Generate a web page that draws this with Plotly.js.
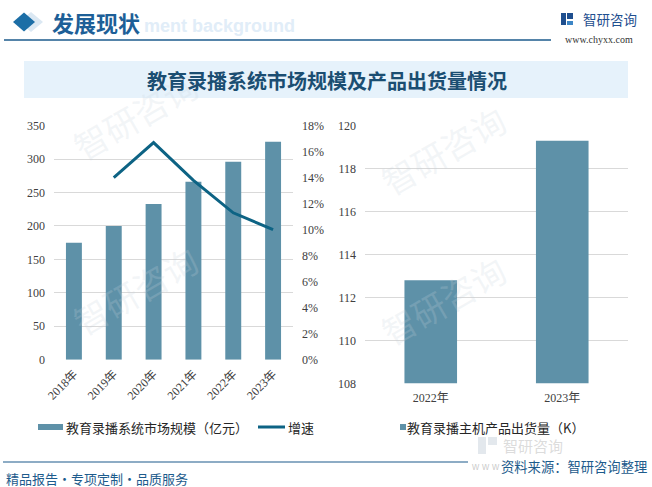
<!DOCTYPE html>
<html>
<head>
<meta charset="utf-8">
<script src="https://cdn.plot.ly/plotly-3.0.1.min.js"></script>
<style>
html,body{margin:0;padding:0;background:#fff;}
#chart{width:652px;height:487px;}
</style>
</head>
<body>
<div id="chart"></div>
<script>
// ---- data ----
const years = ['2018年', '2019年', '2020年', '2021年', '2022年', '2023年'];
const marketSize = [175, 200, 233, 266, 296, 326];          // 亿元
const growthRate = [null, 0.140, 0.167, 0.138, 0.113, 0.100];
const shipYears = ['2022年', '2023年'];
const shipments = [112.8, 119.3];                            // K
const seriesNames = ['教育录播系统市场规模（亿元）', '增速', '教育录播主机产品出货量（K）'];
const chartTitle = '教育录播系统市场规模及产品出货量情况';
const headerText = '发展现状';
const sourceText = '资料来源：智研咨询整理';
const footerText = '精品报告・专项定制・品质服务';

// ---- helpers (pixel -> paper) ----
const W = 652, H = 487;
const px = x => x / W;
const py = y => 1 - y / H;

const barColor = '#5e91a8';
const lineColor = '#0d6384';
const darkBlue = '#1d5b8c';
const tickFont = {family: 'SimSun, "Liberation Serif", "Noto Sans CJK SC", serif', size: 12, color: '#404040'};
const cjk = '"Noto Sans CJK SC", "Microsoft YaHei", sans-serif';

const traces = [
  {type: 'bar', x: years, y: marketSize, name: seriesNames[0], xaxis: 'x', yaxis: 'y',
   marker: {color: barColor}, hoverinfo: 'skip'},
  {type: 'scatter', mode: 'lines', x: years, y: growthRate, name: seriesNames[1], xaxis: 'x', yaxis: 'y2',
   line: {color: lineColor, width: 3}, connectgaps: false, hoverinfo: 'skip'},
  {type: 'bar', x: shipYears, y: shipments, name: seriesNames[2], xaxis: 'x2', yaxis: 'y3',
   marker: {color: barColor}, hoverinfo: 'skip'}
];

function diamond(cx, cy, rx, ry) {
  return `M${px(cx)},${py(cy - ry)} L${px(cx + rx)},${py(cy)} L${px(cx)},${py(cy + ry)} L${px(cx - rx)},${py(cy)} Z`;
}

const shapes = [
  // title band
  {type: 'rect', xref: 'paper', yref: 'paper', x0: px(24), x1: px(628), y0: py(98), y1: py(61),
   fillcolor: '#e6f2fb', line: {width: 0}, layer: 'below'},
  // header diamonds
  {type: 'path', xref: 'paper', yref: 'paper', path: diamond(31, 22, 12, 10), fillcolor: '#dbe8f3', line: {width: 0}},
  {type: 'path', xref: 'paper', yref: 'paper', path: diamond(24, 22, 11, 9.5), fillcolor: '#1c6ea6', line: {width: 0}},
  // header line
  {type: 'line', xref: 'paper', yref: 'paper', x0: px(4), x1: px(551), y0: py(40), y1: py(40),
   line: {color: darkBlue, width: 1.5}},
  // logo icon
  {type: 'rect', xref: 'paper', yref: 'paper', x0: px(561), x1: px(566), y0: py(25), y1: py(13),
   fillcolor: '#1f4f8f', line: {width: 0}},
  {type: 'rect', xref: 'paper', yref: 'paper', x0: px(567), x1: px(573), y0: py(19), y1: py(13),
   fillcolor: '#1f4f8f', line: {width: 0}},
  {type: 'rect', xref: 'paper', yref: 'paper', x0: px(567), x1: px(573), y0: py(25), y1: py(21),
   fillcolor: '#3d86c6', line: {width: 0}},
  // grey logo icon (bottom right watermark)
  {type: 'rect', xref: 'paper', yref: 'paper', x0: px(478), x1: px(486), y0: py(454), y1: py(437),
   fillcolor: 'rgba(200,210,220,0.5)', line: {width: 0}},
  {type: 'rect', xref: 'paper', yref: 'paper', x0: px(488), x1: px(497), y0: py(445), y1: py(437),
   fillcolor: 'rgba(200,210,220,0.5)', line: {width: 0}},
  // footer line
  {type: 'line', xref: 'paper', yref: 'paper', x0: px(3), x1: px(468), y0: py(462), y1: py(462),
   line: {color: darkBlue, width: 1.2}},
  // legend swatches
  {type: 'rect', xref: 'paper', yref: 'paper', x0: px(38), x1: px(63), y0: py(430), y1: py(424),
   fillcolor: barColor, line: {width: 0}},
  {type: 'line', xref: 'paper', yref: 'paper', x0: px(258), x1: px(285), y0: py(427), y1: py(427),
   line: {color: lineColor, width: 3}},
  {type: 'rect', xref: 'paper', yref: 'paper', x0: px(400), x1: px(406), y0: py(430), y1: py(424),
   fillcolor: barColor, line: {width: 0}}
];

const ann = (text, x, y, opts) => Object.assign({text, x: px(x), y: py(y), xref: 'paper', yref: 'paper',
  showarrow: false, xanchor: 'left', yanchor: 'middle', borderpad: 0}, opts || {});

const wmFont = {family: cjk, size: 34, color: 'rgba(200,210,220,0.22)'};
const annotations = [
  // faint watermarks
  ann('智研咨询', 62, 115, {font: wmFont, textangle: -30}),
  ann('智研咨询', 62, 290, {font: wmFont, textangle: -30}),
  ann('智研咨询', 370, 150, {font: wmFont, textangle: -30}),
  ann('智研咨询', 370, 300, {font: wmFont, textangle: -30}),
  // header
  ann('ment background', 143, 26, {font: {family: 'Arial, "Liberation Sans", sans-serif', size: 18, color: '#e1edf8', weight: 'bold'}}),
  ann('<b>' + headerText + '</b>', 51, 22, {font: {family: cjk, size: 22, color: '#1d5f97'}}),
  ann('智研咨询', 582, 19, {font: {family: cjk, size: 13.5, color: '#1f4f8f'}}),
  ann('www.chyxx.com', 599, 39, {xanchor: 'center', font: {family: '"Liberation Serif", serif', size: 10, color: '#333333'}}),
  // title
  ann('<b>' + chartTitle + '</b>', 327, 81, {xanchor: 'center', font: {family: cjk, size: 20, color: '#1b4e72'}}),
  // legends
  ann(seriesNames[0], 65, 427, {font: {family: cjk, size: 13, color: '#262626'}}),
  ann(seriesNames[1], 287, 427, {font: {family: cjk, size: 13, color: '#262626'}}),
  ann(seriesNames[2], 406, 427, {font: {family: cjk, size: 13, color: '#262626'}}),
  // bottom-right grey logo watermark
  ann('智研咨询', 502, 445, {font: {family: cjk, size: 15, color: 'rgba(190,190,190,0.55)'}}),
  ann('w w w', 470, 466, {font: {family: 'Arial, sans-serif', size: 10, color: 'rgba(170,170,170,0.6)'}}),
  // source & footer
  ann(sourceText, 648, 466, {xanchor: 'right', font: {family: cjk, size: 13.3, color: darkBlue}}),
  ann(footerText, 5, 478, {font: {family: cjk, size: 13, color: darkBlue}})
];

const layout = {
  width: W, height: H,
  margin: {l: 0, r: 0, t: 0, b: 0},
  paper_bgcolor: '#ffffff', plot_bgcolor: 'rgba(0,0,0,0)',
  showlegend: false,
  bargap: 0.6,
  xaxis: {domain: [px(54), px(293)], anchor: 'y', tickangle: -45, showgrid: false, showline: false,
          ticks: '', tickfont: tickFont, ticklabelstandoff: 4, fixedrange: true},
  yaxis: {domain: [py(359.7), py(125.7)], range: [0, 350], dtick: 50, tick0: 0, gridcolor: '#d9d9d9',
          gridwidth: 1, zeroline: false, showline: false, ticks: '', tickfont: tickFont, ticklabelstandoff: 8},
  yaxis2: {overlaying: 'y', side: 'right', anchor: 'x', range: [0, 0.18], dtick: 0.02, tick0: 0, tickformat: '.0%',
           showgrid: false, zeroline: false, showline: false, ticks: '', tickfont: tickFont, ticklabelstandoff: 8},
  xaxis2: {domain: [px(365), px(628)], anchor: 'y3', showgrid: false, showline: false, ticks: '',
           tickfont: tickFont, ticklabelstandoff: 6},
  yaxis3: {domain: [py(383.3), py(125.7)], anchor: 'x2', range: [108, 120], dtick: 2, tick0: 108,
           gridcolor: '#d9d9d9', gridwidth: 1, zeroline: false, showline: false, ticks: '', tickfont: tickFont,
           ticklabelstandoff: 8},
  shapes, annotations
};

Plotly.newPlot('chart', traces, layout, {staticPlot: true, displayModeBar: false});
</script>
</body>
</html>
